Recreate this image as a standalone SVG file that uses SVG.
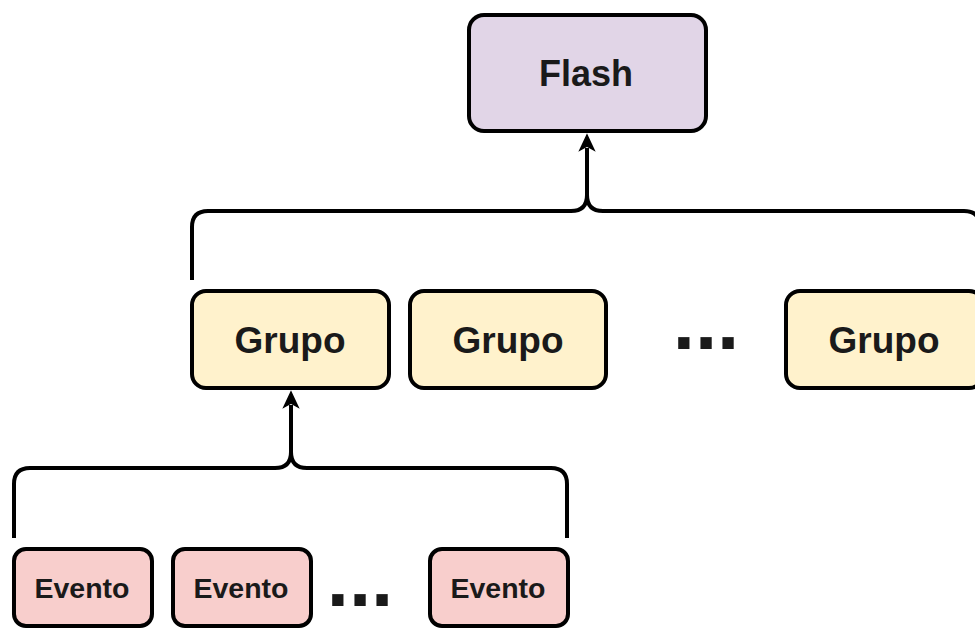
<svg xmlns="http://www.w3.org/2000/svg" width="975" height="629" viewBox="0 0 975 629">
<style>
.box{stroke:#000;stroke-width:4}
.flash{fill:#e1d5e7}
.grupo{fill:#fff2cc}
.evento{fill:#f8cecc}
.lbl{font-family:"Liberation Sans",Arial,sans-serif;font-weight:bold;fill:#1a1a1a;text-anchor:middle}
.conn{fill:none;stroke:#000;stroke-width:4}
.head{fill:#000;stroke:#000;stroke-width:1.5}
</style>
<rect width="975" height="629" fill="#fff"/>
<g id="connectors">
<path class="conn" d="M192 280 V227 Q192 211 208 211 H571 Q587 211 587 195 V148 M587 195 Q587 211 603 211 H964 Q980 211 980 227 V280"/>
<path class="head" d="M587 135 L594 150 L587 146 L580 150 Z"/>
<path class="conn" d="M14 538 V484 Q14 468 30 468 H275 Q291 468 291 452 V405 M291 452 Q291 468 307 468 H551 Q567 468 567 484 V538"/>
<path class="head" d="M291 392 L298 407 L291 403 L284 407 Z"/>
</g>
<g id="flash"><rect class="box flash" x="469" y="15" width="237" height="116" rx="15"/><text class="lbl" x="586" y="86" font-size="36">Flash</text></g>
<g id="grupo1"><rect class="box grupo" x="192" y="291" width="197" height="97" rx="14"/><text class="lbl" x="290" y="353" font-size="37">Grupo</text></g>
<g id="grupo2"><rect class="box grupo" x="410" y="291" width="196" height="97" rx="14"/><text class="lbl" x="508" y="353" font-size="37">Grupo</text></g>
<g id="dots1"><text class="lbl" x="706" y="349" font-size="80">...</text></g>
<g id="grupo3"><rect class="box grupo" x="786" y="291" width="197" height="97" rx="14"/><text class="lbl" x="884" y="353" font-size="37">Grupo</text></g>
<g id="evento1"><rect class="box evento" x="14" y="549" width="138" height="77" rx="12"/><text class="lbl" x="82" y="598" font-size="28.5">Evento</text></g>
<g id="evento2"><rect class="box evento" x="173" y="549" width="138" height="77" rx="12"/><text class="lbl" x="241" y="598" font-size="28.5">Evento</text></g>
<g id="dots2"><text class="lbl" x="360" y="606" font-size="80">...</text></g>
<g id="evento3"><rect class="box evento" x="430" y="549" width="138" height="77" rx="12"/><text class="lbl" x="498" y="598" font-size="28.5">Evento</text></g>
</svg>
